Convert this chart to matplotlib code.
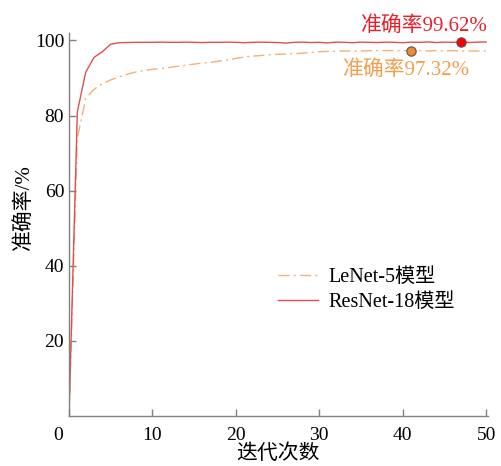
import matplotlib
matplotlib.use("Agg")
import matplotlib.pyplot as plt
from matplotlib.transforms import ScaledTranslation

plt.rcParams['font.family'] = ['Liberation Serif', 'Noto Sans CJK SC']

epochs = list(range(0, 51))
lenet = [0, 74, 84.5, 87, 88.5, 89.5, 90.3, 91.0, 91.6, 92.0, 92.3, 92.5, 92.8, 93.1, 93.4,
         93.7, 94.0, 94.2, 94.5, 94.8, 95.2, 95.6, 95.8, 96.0, 96.2, 96.3, 96.4, 96.5, 96.6,
         96.8, 97.0, 97.1, 97.1, 97.2, 97.2, 97.2, 97.3, 97.3, 97.3, 97.3, 97.3, 97.32, 97.3,
         97.2, 97.3, 97.2, 97.3, 97.2, 97.2, 97.2, 97.2]
resnet = [0, 81, 91.5, 95.5, 97.0, 99.0, 99.4, 99.45, 99.5, 99.5, 99.5, 99.55, 99.5, 99.5,
          99.55, 99.5, 99.45, 99.5, 99.5, 99.55, 99.5, 99.4, 99.5, 99.55, 99.5, 99.45, 99.3,
          99.5, 99.55, 99.45, 99.5, 99.35, 99.55, 99.5, 99.4, 99.55, 99.5, 99.45, 99.55, 99.5,
          99.4, 99.55, 99.5, 99.6, 99.45, 99.55, 99.5, 99.62, 99.45, 99.55, 99.6]
best_lenet_epoch, best_lenet = 41, 97.32
best_resnet_epoch, best_resnet = 47, 99.62
xticks = [0, 10, 20, 30, 40, 50]
yticks = [20, 40, 60, 80, 100]

fig = plt.figure(figsize=(5.01, 4.66), dpi=100)
ax = fig.add_axes([0.1377, 0.1073, 0.836, 0.822])

ax.plot(epochs, lenet, color='#f4b07a', lw=1.0, linestyle=(0, (8, 3, 1.5, 3)), label='LeNet-5模型')
ax.plot(epochs, resnet, color='#e05050', lw=1.0, label='ResNet-18模型')
ax.scatter([best_lenet_epoch], [best_lenet], s=45, color='#f08a30', edgecolors='#555555', linewidths=0.8, zorder=5)
ax.scatter([best_resnet_epoch], [best_resnet], s=45, color='#ff0000', edgecolors='#555555', linewidths=0.8, zorder=5)

ax.text(best_resnet_epoch - 4.4, 101.3, '准确率99.62%', color='#e8202a', fontsize=15, ha='center', va='bottom')
ax.text(best_lenet_epoch - 0.6, 94.8, '准确率97.32%', color='#f0a050', fontsize=15, ha='center', va='top')

ax.set_xlim(0, 50.2)
ax.set_ylim(0, 102)
ax.set_xticks(xticks)
ax.set_yticks(yticks)
ax.tick_params(direction='in', labelsize=14, color='#808080', length=5, width=1)
ax.tick_params(axis='x', pad=8)
for s in ['top', 'right']:
    ax.spines[s].set_visible(False)
for s in ['left', 'bottom']:
    ax.spines[s].set_color('#808080')
    ax.spines[s].set_linewidth(1)

# shift the "0" x tick label left, as in the reference
lbl0 = ax.get_xticklabels()[0]
lbl0.set_transform(lbl0.get_transform() + ScaledTranslation(-11 / 100, 0, fig.dpi_scale_trans))

ax.set_xlabel('迭代次数', fontsize=15, labelpad=0)
ax.set_ylabel('准确率/%', fontsize=15, labelpad=2)
ax.yaxis.set_label_coords(-0.085, 0.545)

leg = ax.legend(loc='center left', bbox_to_anchor=(0.455, 0.33), frameon=False, fontsize=14.5,
                handlelength=2.0, handletextpad=0.5, labelspacing=0.3)

fig.savefig('out.png', dpi=100)
